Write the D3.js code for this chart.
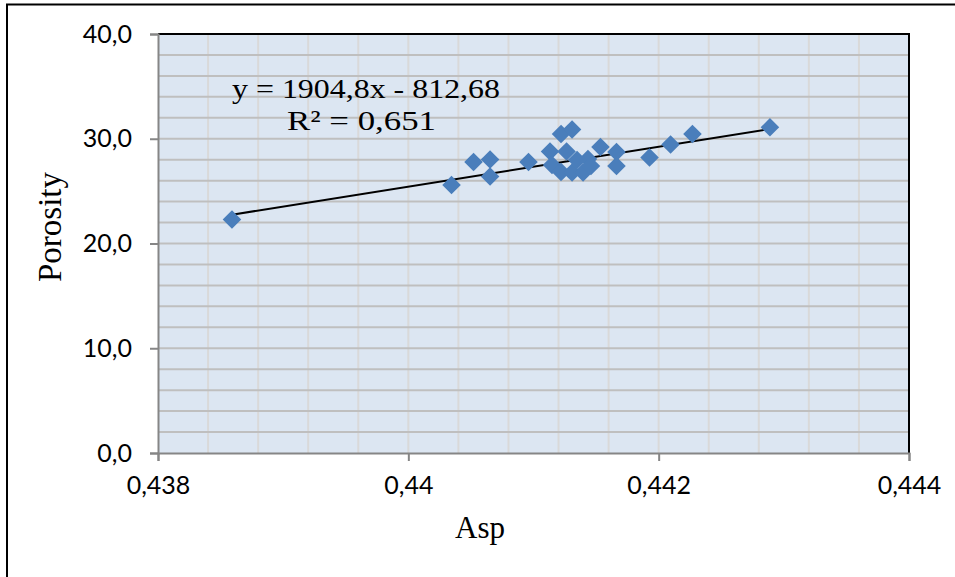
<!DOCTYPE html>
<html lang="en">

<head>
	<meta charset="UTF-8">
	<title>Porosity vs Asp</title>
	<style type="text/css">
		body { margin: 0; background: #fff; }
		.tick text { font-family: Lato, "Liberation Sans", sans-serif; font-size: 25px; fill: #000; }
		.serif { font-family: "Liberation Serif", "Times New Roman", serif; fill: #000; }
	</style>
</head>

<body>
	<div id="chart"></div>

	<script src="https://d3js.org/d3.v7.min.js"></script>
	<script>
		// values
		var asp = [
			0.438591, 0.440345, 0.440521, 0.440653, 0.440653, 0.440960, 0.441132, 0.441148,
			0.441220, 0.441308, 0.441264, 0.441220, 0.441308, 0.441396, 0.441435, 0.441459,
			0.441348, 0.441535, 0.441663, 0.441663, 0.441927, 0.442095, 0.442270, 0.442889
		];
		var porosity = [
			22.29, 25.58, 27.78, 28.02, 26.40, 27.78, 28.78, 27.49,
			30.45, 30.88, 28.78, 26.83, 26.78, 26.78, 28.07, 27.40,
			27.97, 29.21, 28.74, 27.40, 28.21, 29.45, 30.45, 31.09
		];
		var xTicks = [0.438, 0.440, 0.442, 0.444];
		var yTicks = [0, 10, 20, 30, 40];
		var slope = 1904.8, intercept = -812.68;
		var eqLines = ['y = 1904,8x - 812,68', 'R² = 0,651'];

		var W = 955, H = 577;
		var margin = { top: 34, right: 46, bottom: 124, left: 158 };
		var width = W - margin.left - margin.right;
		var height = H - margin.top - margin.bottom;

		var xScale = d3.scaleLinear().domain([0.438, 0.444]).range([0, width]);
		var yScale = d3.scaleLinear().domain([0, 40]).range([height, 0]);

		var comma = d3.formatLocale({ decimal: ',', thousands: ' ', grouping: [3], currency: ['', ''] });
		var fmtX = comma.format('~g');
		var fmtY = comma.format('.1f');

		var svg = d3.select('#chart').append('svg')
			.attr('width', W)
			.attr('height', H);

		// outer chart border (cropped at right and bottom)
		svg.append('rect')
			.attr('x', 7).attr('y', 4.5)
			.attr('width', W).attr('height', H)
			.attr('fill', 'none').attr('stroke', '#000').attr('stroke-width', 2);

		var g = svg.append('g')
			.attr('transform', `translate(${margin.left}, ${margin.top})`);

		g.append('rect')
			.attr('width', width).attr('height', height)
			.attr('fill', '#dce6f2');

		// vertical grid
		g.append('g')
			.attr('class', 'vgrid')
			.selectAll('line')
			.data(d3.range(1, 15).map((i) => 0.438 + i * 0.0004))
			.join('line')
			.attr('x1', (d) => xScale(d)).attr('x2', (d) => xScale(d))
			.attr('y1', 0).attr('y2', height)
			.attr('stroke', '#d9d9d9').attr('stroke-width', 2);

		// horizontal grid
		g.append('g')
			.attr('class', 'hgrid')
			.selectAll('line')
			.data(d3.range(2, 40, 2))
			.join('line')
			.attr('x1', 0).attr('x2', width)
			.attr('y1', (d) => yScale(d)).attr('y2', (d) => yScale(d))
			.attr('stroke', '#bfbfbf').attr('stroke-width', 2);

		// top and right border of plot area
		g.append('path')
			.attr('d', `M0,0H${width}V${height}`)
			.attr('fill', 'none').attr('stroke', '#000').attr('stroke-width', 2);

		var xAxis = g.append('g')
			.attr('transform', `translate(0, ${height})`)
			.call(d3.axisBottom(xScale).tickValues(xTicks).tickFormat(fmtX).tickSize(8).tickPadding(14));

		var yAxis = g.append('g')
			.call(d3.axisLeft(yScale).tickValues(yTicks).tickFormat(fmtY).tickSize(8).tickPadding(18));

		[xAxis, yAxis].forEach((a) => {
			a.attr('font-family', null).attr('font-size', null);
			a.select('.domain').attr('stroke', '#868686').attr('stroke-width', 2);
			a.selectAll('.tick line').attr('stroke', '#868686').attr('stroke-width', 2);
		});
		xAxis.selectAll('.tick text').attr('dy', '0.75em');

		// trendline
		var xr = d3.extent(asp);
		g.append('line')
			.attr('x1', xScale(xr[0])).attr('y1', yScale(slope * xr[0] + intercept))
			.attr('x2', xScale(xr[1])).attr('y2', yScale(slope * xr[1] + intercept))
			.attr('stroke', '#000').attr('stroke-width', 2);

		// markers
		var pts = asp.map((a, i) => ({ x: a, y: porosity[i] }));
		g.append('g')
			.selectAll('path')
			.data(pts)
			.join('path')
			.attr('d', d3.symbol().type(d3.symbolDiamond2).size(220))
			.attr('transform', (d) => `translate(${xScale(d.x)}, ${yScale(d.y)})`)
			.attr('fill', '#4a7ebb');

		// trendline equation
		var eq = svg.append('text')
			.attr('class', 'serif')
			.attr('font-size', 28);
		eq.append('tspan').attr('x', 232).attr('y', 98)
			.attr('textLength', 268).attr('lengthAdjust', 'spacingAndGlyphs')
			.text(eqLines[0]);
		eq.append('tspan').attr('x', 287).attr('y', 130)
			.attr('textLength', 149).attr('lengthAdjust', 'spacingAndGlyphs')
			.text(eqLines[1]);

		// axis titles
		svg.append('text')
			.attr('class', 'serif')
			.attr('font-size', 31)
			.attr('text-anchor', 'middle')
			.attr('x', 480).attr('y', 538)
			.text('Asp');

		svg.append('text')
			.attr('class', 'serif')
			.attr('font-size', 33)
			.attr('text-anchor', 'middle')
			.attr('transform', 'translate(61, 227) rotate(-90)')
			.text('Porosity');
	</script>
</body>

</html>
